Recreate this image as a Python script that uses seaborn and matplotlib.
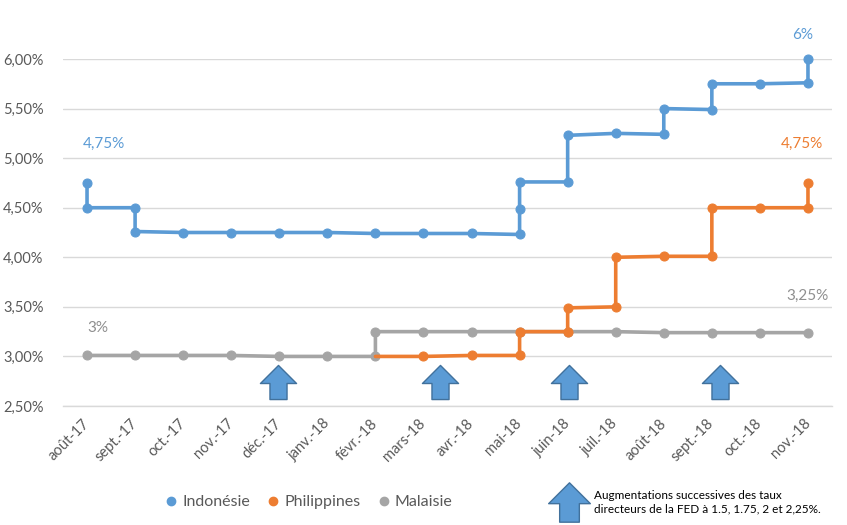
import numpy as np
import pandas as pd
import seaborn as sns
import matplotlib.pyplot as plt
from matplotlib.path import Path
from matplotlib.lines import Line2D

# month categories on the x axis
months = ['août-17', 'sept.-17', 'oct.-17', 'nov.-17', 'déc.-17', 'janv.-18',
          'févr.-18', 'mars-18', 'avr.-18', 'mai-18', 'juin-18', 'juil.-18',
          'août-18', 'sept.-18', 'oct.-18', 'nov.-18']

# policy rates (%), several points per month where the rate changes
indo_month = [0, 0, 1, 1, 2, 3, 4, 5, 6, 7, 8, 9, 9, 9, 10, 10, 11, 12, 12, 13, 13, 14, 15, 15]
indo_rate = [4.75, 4.50, 4.50, 4.26, 4.25, 4.25, 4.25, 4.25, 4.24, 4.24, 4.24, 4.23, 4.49, 4.76,
             4.76, 5.23, 5.25, 5.24, 5.50, 5.49, 5.75, 5.75, 5.76, 6.00]

phil_month = [6, 7, 8, 9, 9, 10, 10, 11, 11, 12, 13, 13, 14, 15, 15]
phil_rate = [3.00, 3.00, 3.01, 3.01, 3.25, 3.25, 3.49, 3.50, 4.00, 4.01, 4.01, 4.50, 4.50, 4.50, 4.75]

mala_month = [0, 1, 2, 3, 4, 5, 6, 6, 7, 8, 9, 10, 11, 12, 13, 14, 15]
mala_rate = [3.01, 3.01, 3.01, 3.01, 3.00, 3.00, 3.00, 3.25, 3.25, 3.25, 3.25, 3.25, 3.25,
             3.24, 3.24, 3.24, 3.24]

# FED hikes (position in months): déc.-17, mars-18, juin-18, sept.-18
fed_hikes = [3.97, 7.34, 10.02, 13.16]

series_names = ['Indonésie', 'Philippines', 'Malaisie']
colors = {'Indonésie': '#5B9BD5', 'Philippines': '#ED7D31', 'Malaisie': '#A5A5A5'}
label_colors = {'Indonésie': '#5B9BD5', 'Philippines': '#ED7D31', 'Malaisie': '#8F8F8F'}

sns.set_style('white')
plt.rcParams['font.family'] = ['Lato', 'DejaVu Sans']

df_indo = pd.DataFrame({'month': indo_month, 'rate': indo_rate})
df_phil = pd.DataFrame({'month': phil_month, 'rate': phil_rate})
df_mala = pd.DataFrame({'month': mala_month, 'rate': mala_rate})

fig = plt.figure(figsize=(8.47, 5.25), dpi=100)
ax = fig.add_axes([63 / 847, 1 - 406 / 525, (832 - 63) / 847, (406 - 59) / 525])

line_kw = dict(x='month', y='rate', estimator=None, sort=False, marker='o',
               linewidth=2.6, markersize=6.5, ax=ax, clip_on=False)
sns.lineplot(data=df_indo, color=colors['Indonésie'], markeredgecolor=colors['Indonésie'],
             zorder=3, **line_kw)
sns.lineplot(data=df_mala, color=colors['Malaisie'], markeredgecolor=colors['Malaisie'],
             zorder=3, **line_kw)
sns.lineplot(data=df_phil, color=colors['Philippines'], markeredgecolor=colors['Philippines'],
             zorder=4, markevery=list(range(1, len(phil_rate))), **line_kw)

# data labels
labels = [
    ('4,75%', indo_month[0], indo_rate[0], 17, 39, 'Indonésie'),
    ('6%', indo_month[-1], indo_rate[-1], -5, 24, 'Indonésie'),
    ('4,75%', phil_month[-1], phil_rate[-1], -6, 39, 'Philippines'),
    ('3,25%', mala_month[-1], mala_rate[-1], 0, 37, 'Malaisie'),
    ('3%', mala_month[0], mala_rate[0], 11, 27, 'Malaisie'),
]
for txt, x, y, dx, dy, name in labels:
    ax.annotate(txt, xy=(x, y), xytext=(dx, dy), textcoords='offset pixels',
                ha='center', va='center', fontsize=11, color=label_colors[name])

# block arrows for FED hikes
arrow = Path([(0, 17), (18, -1), (8.5, -1), (8.5, -17), (-8.5, -17), (-8.5, -1),
              (-18, -1), (0, 17)], closed=True)
ax.scatter(fed_hikes, [0.069] * len(fed_hikes), transform=ax.get_xaxis_transform(),
           marker=arrow, s=26 ** 2, color='#5B9BD5', edgecolors='#41719C',
           linewidths=1, zorder=2, clip_on=False)

# axes
ax.set_xlim(-0.5, 15.5)
ax.set_ylim(2.5, 6.0)
ax.set_yticks(np.arange(2.5, 6.01, 0.5))
ax.set_yticklabels([f'{v:.2f}%'.replace('.', ',') for v in np.arange(2.5, 6.01, 0.5)])
ax.set_xticks(range(len(months)))
ax.set_xticklabels(months, rotation=45, ha='right', va='center', rotation_mode='anchor')
ax.set_xticks(np.arange(-0.5, 15.6, 1), minor=True)
ax.tick_params(axis='x', which='major', length=0, pad=11, labelsize=10.5, colors='#595959')
ax.tick_params(axis='x', which='minor', length=6, color='#D9D9D9', width=1)
ax.tick_params(axis='y', length=0, pad=14, labelsize=10.5, colors='#595959')
ax.grid(axis='y', color='#D9D9D9', linewidth=1)
ax.set_axisbelow(True)
ax.set_xlabel('')
ax.set_ylabel('')
for side in ['top', 'right', 'left']:
    ax.spines[side].set_visible(False)
ax.spines['bottom'].set_color('#D9D9D9')
ax.spines['bottom'].set_linewidth(1)

# legend
handles = [Line2D([], [], marker='o', linestyle='None', color=colors[n], markersize=6)
           for n in series_names]
leg = fig.legend(handles, series_names, loc='center', bbox_to_anchor=(309 / 847, 1 - 502 / 525),
                 ncol=3, frameon=False, fontsize=11.5, handlelength=0.7, handletextpad=0.35,
                 columnspacing=1.1)
for t in leg.get_texts():
    t.set_color('#595959')

# FED legend arrow and note
fig.add_artist(Line2D([569 / 847], [1 - 502 / 525], transform=fig.transFigure, marker=arrow,
                      markersize=30, color='#5B9BD5', markeredgecolor='#41719C',
                      markeredgewidth=1, linestyle='None'))
fig.text(594 / 847, 1 - 502 / 525,
         'Augmentations successives des taux\ndirecteurs de la FED à 1.5, 1.75, 2 et 2,25%.',
         fontsize=8.5, va='center', ha='left', color='black', linespacing=1.3)

plt.savefig('out.png', dpi=100)
